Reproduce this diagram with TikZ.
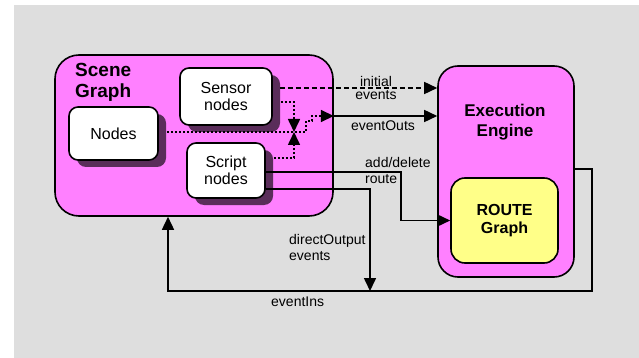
\documentclass[tikz,border=0pt]{standalone}
\usepackage{fontspec}
\setmainfont{Liberation Sans}
\usetikzlibrary{arrows.meta,shadows}
\definecolor{bggray}{RGB}{222,222,222}
\definecolor{pinkfill}{RGB}{255,128,255}
\definecolor{shadowc}{RGB}{90,45,90}
\definecolor{routey}{RGB}{255,255,136}
\begin{document}
\begin{tikzpicture}[x=1pt,y=-1pt,
  container/.style={draw=black,line width=1.6pt,fill=pinkfill,inner sep=0pt},
  titletext/.style={font=\fontsize{17}{20}\selectfont\bfseries,inner sep=0pt},
  subbox/.style={draw=black,line width=1.6pt,fill=white,rounded corners=9pt,inner sep=0pt,
    align=center,font=\fontsize{16}{17}\selectfont,
    drop shadow={shadow xshift=8pt,shadow yshift=-7pt,fill=shadowc,draw=none,opacity=1}},
  conn/.style={line width=1.6pt},
  arr/.style={-{Triangle[length=13pt,width=12pt]}},
  dotline/.style={conn,dash pattern=on 2pt off 2pt},
  dashline/.style={conn,dash pattern=on 5pt off 3pt},
  lbl/.style={font=\fontsize{14}{13}\selectfont,inner sep=0pt}
]
\useasboundingbox (0,0) rectangle (639,358);
\fill[bggray] (14,5) rectangle (639,358);

% Scene graph container
\node[container,rounded corners=24pt,minimum width=278pt,minimum height=161pt] (scene) at (194,135.5) {};
\node[titletext,anchor=north west,align=left,font=\fontsize{19}{21}\selectfont\bfseries] (scenetitle) at (75,63) {Scene\\Graph};
\node[subbox,minimum width=89pt,minimum height=53pt] (nodes) at (113.5,133.5) {Nodes};
\node[subbox,minimum width=92pt,minimum height=57pt] (sensor) at (226,96.5) {Sensor\\nodes};
\node[subbox,minimum width=78pt,minimum height=55pt] (script) at (226,170.5) {Script\\nodes};

% Execution engine
\node[container,rounded corners=20pt,minimum width=136pt,minimum height=211pt] (exec) at (506,171.5) {};
\node[titletext,align=center] (exectitle) at (505,122) {Execution\\Engine};
\node[draw=black,line width=1.6pt,fill=routey,rounded corners=14pt,minimum width=107pt,minimum height=85pt,
  inner sep=0pt,align=center,font=\fontsize{16}{18}\selectfont\bfseries] (route) at (504.5,220.5) {ROUTE\\Graph};

% helper coordinates
\coordinate (bow) at (294,132);
\coordinate (eo) at (312,116);
\coordinate (adx) at (401,172);
\coordinate (doj) at (370,291);
\coordinate (eir) at (592,169);
\coordinate (eil) at (168,291);

% initial events (dashed)
\draw[dashline,arr] ([xshift=7pt,yshift=8.5pt]sensor.east) -- ([yshift=8.5pt]sensor.east -| exec.west);
% dotted event paths
\draw[dotline,arr] ([xshift=8pt,yshift=-5.5pt]sensor.east) -| (bow);
\draw[dotline,arr] ([xshift=8pt,yshift=12.5pt]script.east) -| (bow);
\draw[dotline,arr] ([xshift=8pt,yshift=1.5pt]nodes.east) -- (306,132) -- (306,121) -- (312,121) -- (eo) -- (eo -| scene.east);
% eventOuts
\draw[conn,arr] (eo -| scene.east) -- (eo -| exec.west);
% add/delete route
\draw[conn,arr] ([yshift=-1.5pt]script.east) -- (adx) |- (route.west);
% directOutput events
\draw[conn,arr] ([yshift=-18.5pt]script.east) -| (doj);
% eventIns
\draw[conn,arr] ([yshift=2.5pt]exec.east) -- (eir) |- (eil) -- (eil |- scene.south);

% labels
\node[lbl,align=center] (l1) at (376,88) {initial\\events};
\node[lbl] (l2) at (383,126) {eventOuts};
\node[lbl,align=left,anchor=north west,font=\fontsize{14}{16}\selectfont] (l3) at (365,157) {add/delete\\route};
\node[lbl,align=left,anchor=north west,font=\fontsize{14}{16}\selectfont] (l4) at (289,234) {directOutput\\events};
\node[lbl,anchor=north west] (l5) at (271,297) {eventIns};
\end{tikzpicture}
\end{document}
